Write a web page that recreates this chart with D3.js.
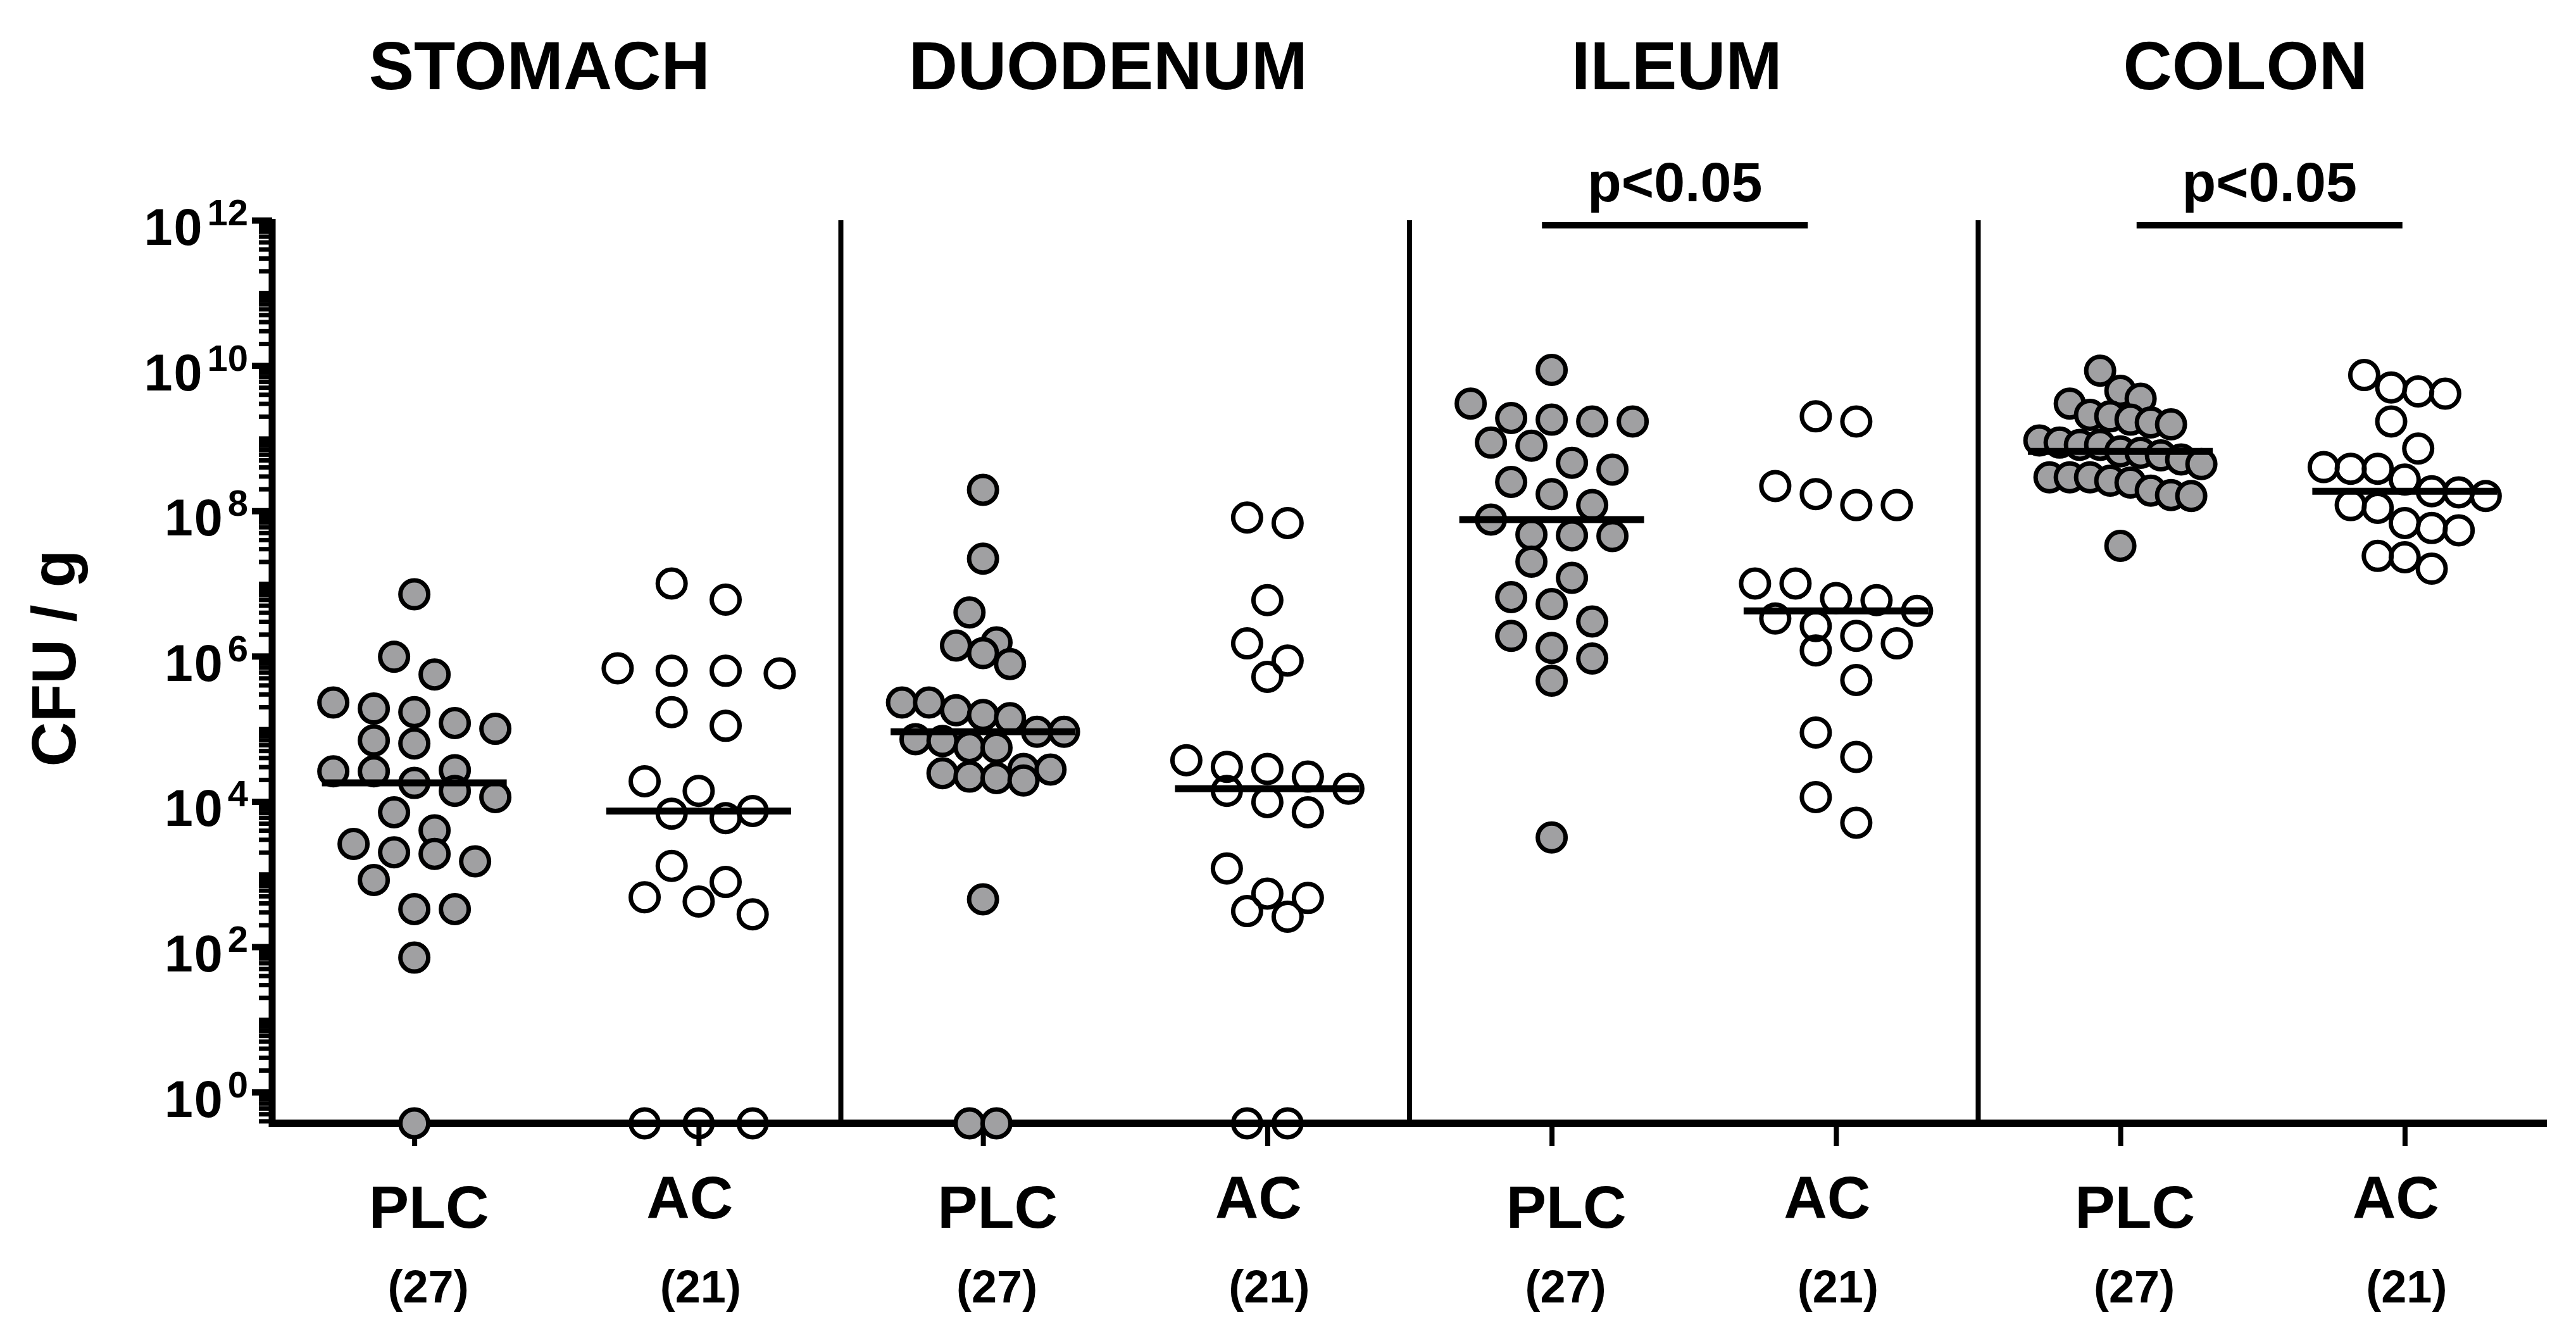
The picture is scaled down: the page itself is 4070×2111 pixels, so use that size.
<!DOCTYPE html>
<html>
<head>
<meta charset="utf-8">
<script src="https://cdn.jsdelivr.net/npm/d3@7"></script>
<style>
  html, body { margin: 0; padding: 0; background: #fff; }
  svg { display: block; font-family: "Liberation Sans", Arial, sans-serif; font-weight: bold; }
</style>
</head>
<body>
<svg id="chart" width="4070" height="2111"></svg>
<script>
// ---- data: CFU / g per animal, 0 = below detection (drawn on the x axis) ----
const organs = ['STOMACH', 'DUODENUM', 'ILEUM', 'COLON'];
const groups = ['PLC', 'AC'];
const yTickExponents = [0, 2, 4, 6, 8, 10, 12];

const stomachPLC = [7.1e6, 9.8e5, 5.6e5, 2.3e5, 1.9e5, 1.7e5, 1.2e5, 1.0e5, 6.9e4, 6.3e4,
  2.7e4, 2.6e4, 2.6e4, 1.8e4, 1.4e4, 1.15e4, 7.1e3, 4.0e3, 2.6e3, 1.9e3,
  2.0e3, 1.5e3, 830, 330, 330, 71, 0];
const stomachAC = [1.0e7, 6.0e6, 6.3e5, 5.8e5, 6.3e5, 6.8e5, 1.7e5, 1.1e5, 1.9e4, 1.4e4,
  6.8e3, 7.4e3, 5.9e3, 1.3e3, 780, 480, 420, 280, 0, 0, 0];

const duodenumPLC = [1.95e8, 2.2e7, 4.0e6, 1.1e6, 1.55e6, 7.8e5, 1.4e6, 1.8e5, 2.3e5, 1.55e5,
  1.4e5, 2.3e5, 9.1e4, 9.1e4, 7.2e4, 5.6e4, 6.8e4, 5.5e4, 2.75e4, 2.45e4,
  1.95e4, 2.2e4, 2.1e4, 2.8e4, 450, 0, 0];
const duodenumAC = [6.8e7, 8.1e7, 5.9e6, 1.5e6, 8.7e5, 5.2e5, 2.2e4, 2.8e4, 3.7e4, 3.0e4,
  1.4e4, 1.5e4, 9.8e3, 7.1e3, 1.2e3, 470, 310, 260, 540, 0, 0];

const ileumPLC = [8.7e9, 3.0e9, 1.9e9, 1.8e9, 1.7e9, 1.7e9, 7.9e8, 8.7e8, 4.6e8, 3.7e8,
  2.5e8, 1.7e8, 1.2e8, 7.6e7, 4.6e7, 4.5e7, 4.7e7, 2.0e7, 1.2e7, 6.5e6,
  5.2e6, 3.0e6, 1.9e6, 1.3e6, 9.3e5, 4.6e5, 3.2e3];
const ileumAC = [2.0e9, 1.7e9, 2.2e8, 1.2e8, 1.2e8, 1.7e8, 1.0e7, 1.0e7, 5.9e6, 6.3e6,
  4.2e6, 3.3e6, 2.6e6, 1.5e6, 1.9e6, 1.2e6, 4.7e5, 8.9e4, 4.1e4, 1.15e4, 5.1e3];

const colonPLC = [8.5e9, 4.5e9, 3.5e9, 3.0e9, 2.1e9, 1.55e9, 1.65e9, 2.0e9, 1.8e9, 9.3e8,
  6.3e8, 5.8e8, 6.6e8, 5.1e8, 4.4e8, 8.1e8, 8.7e8, 8.1e8, 2.45e8, 2.9e8,
  1.6e8, 1.65e8, 2.9e8, 2.6e8, 2.9e8, 1.9e8, 3.3e7];
const colonAC = [7.4e9, 5.0e9, 4.1e9, 4.4e9, 1.7e9, 7.2e8, 3.8e8, 4.0e8, 2.7e8, 3.8e8,
  1.6e8, 1.86e8, 1.8e8, 1.1e8, 1.2e8, 5.4e7, 5.8e7, 6.8e7, 2.3e7, 2.4e7, 1.6e7];

const values = {
  STOMACH: { PLC: stomachPLC, AC: stomachAC },
  DUODENUM: { PLC: duodenumPLC, AC: duodenumAC },
  ILEUM: { PLC: ileumPLC, AC: ileumAC },
  COLON: { PLC: colonPLC, AC: colonAC }
};

const significance = [
  { organ: 'ILEUM', label: 'p<0.05' },
  { organ: 'COLON', label: 'p<0.05' }
];

// ---- layout ----
const plotLeft = 430, plotRight = 4024, plotTop = 348, plotBottom = 1775;
const fillFor = { PLC: '#a0a0a2', AC: 'none' };
// small label shifts as in the original figure
const labelShift = { PLC: 23, AC: -14 };
const countShift = { PLC: 22, AC: 3 };
const labelBase = { PLC: 1940, AC: 1925 };
const sigShift = { ILEUM: -30, COLON: 11 };

const svg = d3.select('#chart');
svg.append('rect').attr('width', 4070).attr('height', 2111).attr('fill', '#fff');

const y = d3.scaleLog()
  .domain([Math.pow(10, -0.43), 1e12])
  .range([plotBottom, plotTop]);
const yPos = v => v > 0 ? y(v) : y.range()[0];

const xPanel = d3.scaleBand().domain(organs).range([plotLeft, plotRight]);
const xGroup = d3.scalePoint().domain(groups).range([0, xPanel.bandwidth()]).padding(0.5);

// titles
svg.append('g').selectAll('text')
  .data(organs)
  .join('text')
  .attr('x', d => xPanel(d) + xPanel.bandwidth() / 2 - 27)
  .attr('y', 141)
  .attr('text-anchor', 'middle')
  .attr('font-size', 107)
  .text(d => d);

// y axis: minor ticks
const majorVals = yTickExponents.map(e => Math.pow(10, e));
const minorVals = [];
d3.range(-1, 12).forEach(k => {
  d3.range(1, 10).forEach(m => {
    const v = m * Math.pow(10, k);
    if (v >= y.domain()[0] && v <= y.domain()[1] && !(m === 1 && k % 2 === 0)) minorVals.push(v);
  });
});

const yMinor = svg.append('g')
  .attr('transform', `translate(${plotLeft},0)`)
  .call(d3.axisLeft(y).tickValues(minorVals).tickSize(21).tickFormat(''));
yMinor.select('.domain').remove();
yMinor.selectAll('line').attr('stroke', '#000').attr('stroke-width', 7);

const yMajor = svg.append('g')
  .attr('transform', `translate(${plotLeft},0)`)
  .call(d3.axisLeft(y).tickValues(majorVals).tickSize(32).tickFormat(''));
yMajor.select('.domain').remove();
yMajor.selectAll('line').attr('stroke', '#000').attr('stroke-width', 10);

// y tick labels 10^n
const yLabels = svg.append('g').selectAll('text')
  .data(yTickExponents)
  .join('text')
  .attr('x', 392)
  .attr('y', d => y(Math.pow(10, d)) + 39)
  .attr('text-anchor', 'end')
  .attr('font-size', 81);
yLabels.append('tspan').attr('letter-spacing', 2).text('10');
yLabels.append('tspan')
  .attr('dx', 6)
  .attr('dy', -31)
  .attr('font-size', 58)
  .text(d => d);

// y title
svg.append('text')
  .attr('transform', 'translate(119,1040) rotate(-90)')
  .attr('text-anchor', 'middle')
  .attr('font-size', 98)
  .text('CFU / g');

// panel separators
svg.append('g').selectAll('line')
  .data(organs.slice(1))
  .join('line')
  .attr('x1', d => xPanel(d)).attr('x2', d => xPanel(d))
  .attr('y1', plotTop).attr('y2', plotBottom)
  .attr('stroke', '#000').attr('stroke-width', 8);

// category ticks below the axis and labels
organs.forEach(organ => {
  const g = svg.append('g').attr('transform', `translate(${xPanel(organ)},${plotBottom})`);
  g.call(d3.axisBottom(xGroup).tickSize(36).tickFormat(''));
  g.select('.domain').remove();
  g.selectAll('line').attr('stroke', '#000').attr('stroke-width', 8);

  groups.forEach(grp => {
    const cx = xPanel(organ) + xGroup(grp);
    svg.append('text')
      .attr('x', cx + labelShift[grp])
      .attr('y', labelBase[grp])
      .attr('text-anchor', 'middle')
      .attr('font-size', 95)
      .text(grp);
    svg.append('text')
      .attr('x', cx + countShift[grp])
      .attr('y', 2058)
      .attr('text-anchor', 'middle')
      .attr('font-size', 72)
      .text(`(${values[organ][grp].length})`);
  });
});

// axis lines
svg.append('line')
  .attr('x1', plotLeft).attr('x2', plotLeft)
  .attr('y1', plotTop - 2).attr('y2', plotBottom + 6)
  .attr('stroke', '#000').attr('stroke-width', 11);
svg.append('line')
  .attr('x1', plotLeft - 5).attr('x2', plotRight)
  .attr('y1', plotBottom).attr('y2', plotBottom)
  .attr('stroke', '#000').attr('stroke-width', 12);

// scatter layout: rows of nearby values spread across a fixed width
const swarmHalf = 128, rowGap = 48;
function layoutSwarm(vals) {
  const pts = vals.map(v => ({ v: v, py: yPos(v) })).sort((a, b) => a.py - b.py);
  const rows = [];
  pts.forEach(p => {
    const row = rows[rows.length - 1];
    if (row && p.py - row[0].py < rowGap) row.push(p);
    else rows.push([p]);
  });
  const nMax = d3.max(rows, r => r.length);
  const step = nMax > 1 ? 2 * swarmHalf / (nMax - 1) : 0;
  rows.forEach(r => r.forEach((p, i) => { p.dx = (i - (r.length - 1) / 2) * step; }));
  return pts;
}

organs.forEach(organ => {
  groups.forEach(grp => {
    const vals = values[organ][grp];
    const cx = xPanel(organ) + xGroup(grp);
    svg.append('g').selectAll('circle')
      .data(layoutSwarm(vals))
      .join('circle')
      .attr('cx', d => cx + d.dx)
      .attr('cy', d => d.py)
      .attr('r', 22)
      .attr('fill', fillFor[grp])
      .attr('stroke', '#000')
      .attr('stroke-width', 7);

    const med = yPos(d3.median(vals));
    svg.append('line')
      .attr('x1', cx - 146).attr('x2', cx + 146)
      .attr('y1', med).attr('y2', med)
      .attr('stroke', '#000').attr('stroke-width', 11);
  });
});

// significance bars
significance.forEach(s => {
  const mid = xPanel(s.organ) + xPanel.bandwidth() / 2 + sigShift[s.organ];
  svg.append('line')
    .attr('x1', mid - 210).attr('x2', mid + 210)
    .attr('y1', 356).attr('y2', 356)
    .attr('stroke', '#000').attr('stroke-width', 10);
  svg.append('text')
    .attr('x', mid)
    .attr('y', 318)
    .attr('text-anchor', 'middle')
    .attr('font-size', 88)
    .text(s.label);
});
</script>
</body>
</html>
